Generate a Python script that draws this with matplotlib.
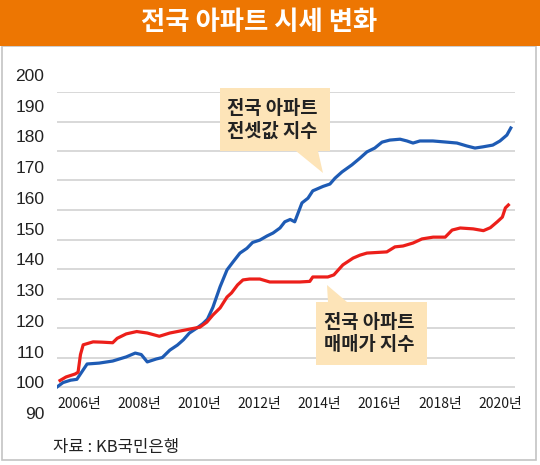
import matplotlib
matplotlib.use('Agg')
import matplotlib.pyplot as plt
from matplotlib.patches import Rectangle, Polygon

# 전셋값 지수 (blue)
jeonse_years = [2006.0, 2006.2, 2006.45, 2006.66, 2006.85, 2007.0, 2007.4, 2007.85, 2008.3,
                2008.6, 2008.8, 2009.0, 2009.3, 2009.5, 2009.75, 2010.0, 2010.2, 2010.4,
                2010.65, 2010.85, 2011.0, 2011.18, 2011.42, 2011.65, 2011.85, 2012.08,
                2012.31, 2012.5, 2012.74, 2012.98, 2013.18, 2013.41, 2013.57, 2013.75, 2013.9,
                2014.14, 2014.34, 2014.5, 2014.84, 2015.07, 2015.24, 2015.47, 2015.8,
                2016.07, 2016.3, 2016.56, 2016.8, 2017.06, 2017.4, 2017.63, 2017.83,
                2018.06, 2018.49, 2018.96, 2019.29, 2019.62, 2019.89, 2020.15, 2020.48,
                2020.72, 2020.95, 2021.08]
jeonse_vals = [100, 101.5, 102.3, 102.6, 105.5, 107.8, 108.1, 108.8, 110.2,
               111.5, 111, 108.5, 109.5, 110, 112.5, 114.2, 116, 118.3,
               120, 121.5, 123, 127, 134, 139.7, 142.4, 145.4,
               147, 149, 149.8, 151.2, 152.2, 153.9, 156, 156.8, 156,
               162.4, 164, 166.5, 168, 168.8, 170.8, 172.9, 175.3,
               177.6, 179.7, 181, 183, 183.7, 184, 183.4, 182.7,
               183.4, 183.4, 183, 182.7, 181.7, 181, 181.4, 182,
               183.4, 185.4, 187.8]

# 매매가 지수 (red)
sale_years = [2006.1, 2006.3, 2006.6, 2006.7, 2006.78, 2006.87, 2007.2, 2007.5, 2007.85,
              2008.0, 2008.3, 2008.65, 2009.0, 2009.4, 2009.75, 2010.1, 2010.4, 2010.75,
              2010.98, 2011.18, 2011.42, 2011.65, 2011.8, 2012.0, 2012.18, 2012.4,
              2012.74, 2013.07, 2013.41, 2014.07, 2014.4, 2014.5, 2015.0, 2015.2,
              2015.5, 2015.84, 2016.07, 2016.3, 2016.96, 2017.23, 2017.5, 2017.83,
              2018.13, 2018.5, 2018.9, 2019.13, 2019.4, 2019.83, 2020.17, 2020.4,
              2020.63, 2020.8, 2020.9, 2021.0]
sale_vals = [102.2, 103.4, 104.4, 105, 111, 114.3, 115.3, 115.2, 115,
             116.5, 118, 118.8, 118.3, 117.2, 118.3, 119, 119.6, 120.3,
             122, 124.4, 126.8, 130.5, 131.9, 134.6, 136.3, 136.6,
             136.6, 135.6, 135.6, 135.6, 135.8, 137.3, 137.3, 138,
             141.4, 143.7, 144.7, 145.4, 145.8, 147.5, 147.8, 148.8,
             150.2, 150.8, 150.8, 153.2, 153.9, 153.6, 153, 154,
             156, 157.6, 160.7, 161.7]

grid_vals = list(range(100, 201, 10))
ylabel_vals = list(range(90, 201, 10))
xtick_years = list(range(2006, 2021, 2))

W, H = 540, 465
kr = ['Noto Sans CJK KR', 'DejaVu Sans']
narrow = ['Liberation Sans Narrow', 'Noto Sans CJK KR', 'DejaVu Sans']


def px(x, y):
    # pixel position (from top-left) -> figure fraction
    return (x / W, 1 - y / H)


fig = plt.figure(figsize=(5.4, 4.65), dpi=100)
fig.patch.set_facecolor('white')

# panel border + orange title bar
fig.patches.append(Rectangle(px(2, 460), 534 / W, 414 / H, transform=fig.transFigure,
                             facecolor='none', edgecolor='#c4c4c4', lw=1.2, zorder=0))
fig.patches.append(Rectangle(px(0, 46), 1, 46 / H, transform=fig.transFigure,
                             facecolor='#ED7602', edgecolor='none', zorder=1))
fig.text(259 / W, 1 - 23 / H, '전국 아파트 시세 변화', color='white', fontsize=19,
         fontweight='bold', family=kr, ha='center', va='center')

# main axes: x 57..515 px, y 92 (200) .. 416.5 (90)
l, b = px(57, 416.5)
r, t = px(515, 92)
ax = fig.add_axes([l, b, r - l, t - b])
ax.set_zorder(1)
ax.set_xlim(2006.0, 2021.22)
ax.set_ylim(90, 200)
ax.set_facecolor('none')
for s in ax.spines.values():
    s.set_visible(False)
ax.set_yticks([])
ax.hlines(grid_vals, 2006.0, 2021.22, color='#d2d2d2', lw=1.2, zorder=1)

ax.plot(jeonse_years, jeonse_vals, color='#1E5BB4', lw=2.3, solid_joinstyle='round', zorder=4)
ax.plot(sale_years, sale_vals, color='#EC1F1A', lw=2.3, solid_joinstyle='round', zorder=4)

ax.set_xticks(xtick_years)
ax.set_xticklabels([f'{y}년' for y in xtick_years], family=narrow, fontsize=10,
                   color='#1a1a1a')
ax.tick_params(axis='x', length=0, pad=-9)
for lab in ax.get_xticklabels():
    lab.set_ha('left')
    lab.set_va('center')

# y labels sit a little off the grid lines in the original; own axes for them
l2, b2 = px(57, 413)
r2, t2 = px(515, 75)
lax = fig.add_axes([l2, b2, r2 - l2, t2 - b2])
lax.set_zorder(1)
lax.set_ylim(90, 200)
lax.set_facecolor('none')
for s in lax.spines.values():
    s.set_visible(False)
lax.set_xticks([])
lax.set_yticks(ylabel_vals)
lax.set_yticklabels([str(v) for v in ylabel_vals], family='Liberation Sans', fontsize=12.5, color='#222')
lax.tick_params(axis='y', length=0, pad=9)

# callouts
box_col = '#FDE4B8'
blue_box = [px(220, 88), px(330, 88), px(330, 151), px(318, 151), px(323, 173),
            px(296, 151), px(220, 151)]
fig.patches.append(Polygon(blue_box, closed=True, transform=fig.transFigure,
                           facecolor=box_col, edgecolor='none', zorder=2))
fig.text(227 / W, 1 - 120 / H, '전국 아파트\n전셋값 지수', family=kr, fontsize=13.5,
         fontweight='bold', color='#222', ha='left', va='center', linespacing=1.2)

red_box = [px(316, 302), px(328, 302), px(327, 285), px(347, 302), px(427, 302),
           px(427, 365), px(316, 365)]
fig.patches.append(Polygon(red_box, closed=True, transform=fig.transFigure,
                           facecolor=box_col, edgecolor='none', zorder=2))
fig.text(324 / W, 1 - 334 / H, '전국 아파트\n매매가 지수', family=kr, fontsize=13.5,
         fontweight='bold', color='#222', ha='left', va='center', linespacing=1.2)

fig.text(53 / W, 1 - 447 / H, '자료 : KB국민은행', family=kr, fontsize=12,
         color='#222', ha='left', va='center')

fig.savefig('out.png', dpi=100)
